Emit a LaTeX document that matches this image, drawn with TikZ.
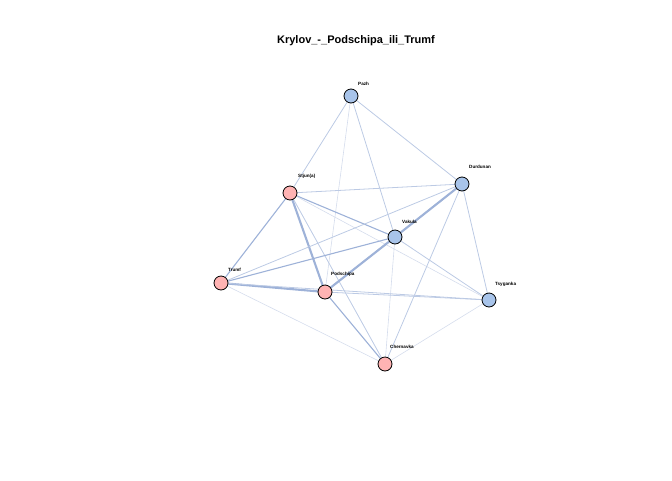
\documentclass[tikz,border=0pt]{standalone}
\usepackage{fontspec}
\setmainfont{Liberation Sans}
\definecolor{edgeA}{RGB}{158,178,216}
\definecolor{edgeB}{RGB}{188,202,228}
\definecolor{edgeC}{RGB}{212,220,236}
\definecolor{pinkfill}{RGB}{255,179,179}
\definecolor{bluefill}{RGB}{168,196,234}
\tikzset{
  vert/.style={circle, draw=black, line width=0.8pt, minimum size=14pt, inner sep=0pt},
  pinkv/.style={vert, fill=pinkfill},
  bluev/.style={vert, fill=bluefill},
  lab/.style={font=\bfseries\fontsize{4.6}{5}\selectfont, anchor=base west, inner sep=0pt},
  ethick/.style={draw=edgeA, line width=2.1pt},
  emid/.style={draw=edgeA, line width=1.1pt},
  ethin/.style={draw=edgeB, line width=0.8pt},
  efaint/.style={draw=edgeC, line width=0.6pt},
}
\begin{document}
\begin{tikzpicture}[x=1pt,y=-1pt]
\useasboundingbox (0,0) rectangle (672,480);
\node[font=\bfseries\fontsize{11}{13}\selectfont] (title) at (356,41) {Krylov\_-\_Podschipa\_ili\_Trumf};
% node coordinates
\coordinate (cPazh) at (351,96);
\coordinate (cDurd) at (462,184);
\coordinate (cStju) at (290,193);
\coordinate (cVak) at (395,237);
\coordinate (cTrumf) at (221,283);
\coordinate (cPod) at (325,292);
\coordinate (cTsy) at (489,300);
\coordinate (cChe) at (385,364);
% edges
\draw[ethin] (cPazh) -- (cStju);
\draw[ethin] (cPazh) -- (cDurd);
\draw[ethin] (cPazh) -- (cVak);
\draw[efaint] (cPazh) -- (cPod);
\draw[ethin] (cStju) -- (cDurd);
\draw[emid] (cStju) -- (cVak);
\draw[emid] (cStju) -- (cTrumf);
\draw[ethick] (cStju) -- (cPod);
\draw[efaint] (cStju) -- (cTsy);
\draw[ethin] (cStju) -- (cChe);
\draw[ethick] (cDurd) -- (cVak);
\draw[ethin] (cDurd) -- (cTrumf);
\draw[emid] (cDurd) -- (cPod);
\draw[ethin] (cDurd) -- (cTsy);
\draw[ethin] (cDurd) -- (cChe);
\draw[emid] (cVak) -- (cTrumf);
\draw[ethick] (cVak) -- (cPod);
\draw[ethin] (cVak) -- (cTsy);
\draw[efaint] (cVak) -- (cChe);
\draw[ethick] (cTrumf) -- (cPod);
\draw[ethin] (cTrumf) -- (cTsy);
\draw[efaint] (cTrumf) -- (cChe);
\draw[ethin] (cPod) -- (cTsy);
\draw[emid] (cPod) -- (cChe);
\draw[efaint] (cTsy) -- (cChe);
% vertices
\node[bluev] (Pazh) at (cPazh) {};
\node[bluev] (Durd) at (cDurd) {};
\node[pinkv] (Stju) at (cStju) {};
\node[bluev] (Vak) at (cVak) {};
\node[pinkv] (Trumf) at (cTrumf) {};
\node[pinkv] (Pod) at (cPod) {};
\node[bluev] (Tsy) at (cTsy) {};
\node[pinkv] (Che) at (cChe) {};
% labels
\node[lab] (lPazh) at (358,85) {Pazh};
\node[lab] (lDurd) at (469,168) {Durdunan};
\node[lab] (lStju) at (298,177) {Stjun(a)};
\node[lab] (lVak) at (402,223) {Vakula};
\node[lab] (lTrumf) at (228,271) {Trumf};
\node[lab] (lPod) at (331,275) {Podschipa};
\node[lab] (lTsy) at (495,285) {Tsyganka};
\node[lab] (lChe) at (390,348) {Chernavka};
\end{tikzpicture}
\end{document}
